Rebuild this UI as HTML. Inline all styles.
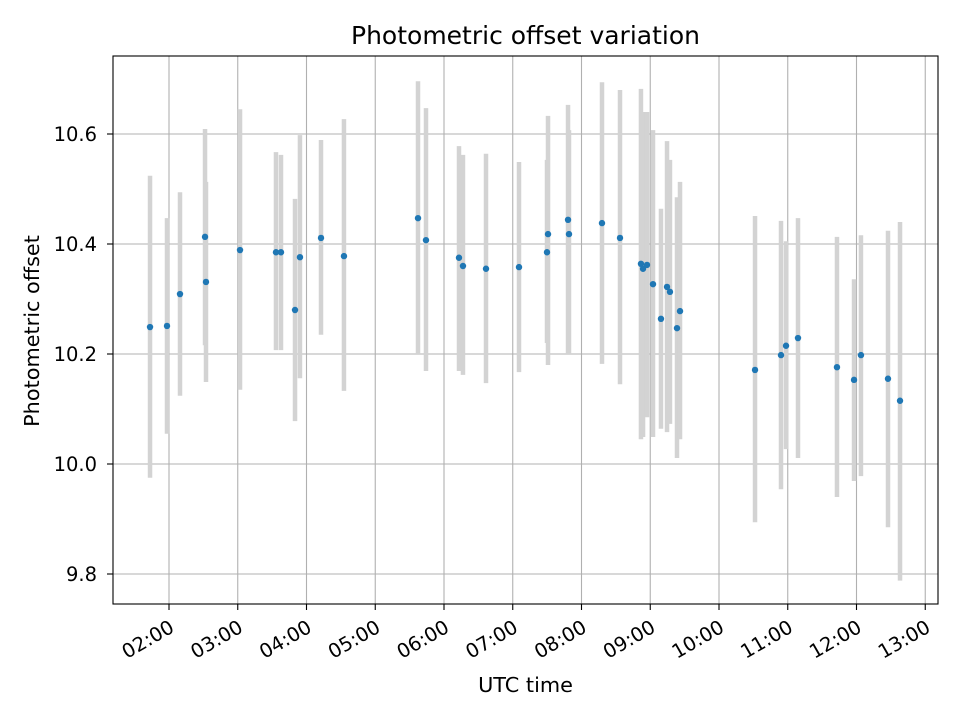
<!DOCTYPE html>
<html><head><meta charset="utf-8"><style>
body{margin:0;background:#fff}
svg text{font-family:"DejaVu Sans","Liberation Sans",sans-serif;fill:#000}
</style></head><body>
<svg id="chart" width="960" height="720" xmlns="http://www.w3.org/2000/svg">
<rect width="960" height="720" fill="#fff"/>
<g id="grid"></g><g id="bars"></g><g id="pts"></g><g id="axes"></g>
</svg>
<script>
const times=[1.724,1.971,2.16,2.524,2.538,3.033,3.556,3.629,3.833,3.905,4.211,4.545,5.622,5.738,6.218,6.276,6.611,7.091,7.498,7.513,7.804,7.818,8.298,8.56,8.865,8.895,8.953,9.04,9.156,9.244,9.287,9.389,9.433,10.524,10.902,10.975,11.149,11.716,11.964,12.065,12.458,12.633];
const values=[10.249,10.251,10.309,10.413,10.331,10.389,10.385,10.385,10.280,10.376,10.411,10.378,10.447,10.407,10.375,10.360,10.355,10.358,10.385,10.418,10.444,10.418,10.438,10.411,10.364,10.355,10.362,10.327,10.264,10.322,10.313,10.247,10.278,10.171,10.198,10.215,10.229,10.176,10.153,10.198,10.155,10.115];
const highs=[10.524,10.447,10.494,10.609,10.513,10.645,10.567,10.562,10.482,10.598,10.589,10.627,10.696,10.647,10.578,10.562,10.564,10.549,10.553,10.633,10.653,10.607,10.694,10.680,10.682,10.640,10.640,10.607,10.464,10.587,10.553,10.485,10.513,10.451,10.442,10.405,10.447,10.413,10.336,10.416,10.424,10.440];
const lows=[9.975,10.055,10.124,10.216,10.149,10.135,10.207,10.207,10.078,10.156,10.235,10.133,10.200,10.169,10.169,10.162,10.147,10.167,10.220,10.180,10.200,10.200,10.182,10.145,10.045,10.049,10.085,10.049,10.064,10.058,10.073,10.011,10.045,9.894,9.954,10.027,10.011,9.940,9.969,9.978,9.885,9.788];
const xTicks=[2,3,4,5,6,7,8,9,10,11,12,13];
const xTickLabels=["02:00","03:00","04:00","05:00","06:00","07:00","08:00","09:00","10:00","11:00","12:00","13:00"];
const yTicks=[9.8,10.0,10.2,10.4,10.6];
const yTickLabels=["9.8","10.0","10.2","10.4","10.6"];

const L=113,R=938,T=56,B=604;
const X=h=>169+(h-2)*68.75;
const Y=v=>134+(10.6-v)*550;
const NS="http://www.w3.org/2000/svg";
function mk(tag,attrs,parent,text){const e=document.createElementNS(NS,tag);for(const k in attrs)e.setAttribute(k,attrs[k]);if(text!==undefined)e.textContent=text;parent.appendChild(e);return e;}
const grid=document.getElementById('grid'),bars=document.getElementById('bars'),pts=document.getElementById('pts'),axes=document.getElementById('axes');
xTicks.forEach((t,i)=>{
  const x=X(t);
  const g=mk('line',{x1:x,x2:x,y1:T,y2:B,stroke:'#b0b0b0','stroke-width':1.1},grid);
  
  
  const tk=mk('line',{x1:x,x2:x,y1:B,y2:B+6,stroke:'#000','stroke-width':1.1},axes);
  
  
  const lb=mk('text',{x:0,y:15,'font-size':19.5,'text-anchor':'end',transform:`translate(${x-1} ${B+14}) rotate(-30)`},axes,xTickLabels[i]);
  
  
});
yTicks.forEach((t,i)=>{
  const y=Y(t);
  const g=mk('line',{x1:L,x2:R,y1:y,y2:y,stroke:'#b0b0b0','stroke-width':1.1},grid);
  
  
  const tk=mk('line',{x1:L-6,x2:L,y1:y,y2:y,stroke:'#000','stroke-width':1.1},axes);
  
  
  const lb=mk('text',{x:L-16,y:y+7,'font-size':19.5,'text-anchor':'end'},axes,yTickLabels[i]);
  
  
});
times.forEach((t,i)=>{
  const b=mk('line',{x1:X(t),x2:X(t),y1:Y(highs[i]),y2:Y(lows[i]),stroke:'#d3d3d3','stroke-width':4.5},bars);
  
  
});
times.forEach((t,i)=>{
  const p=mk('circle',{cx:X(t),cy:Y(values[i]),r:3.2,fill:'#1f77b4'},pts);
  
  
});
const fr=mk('rect',{x:L,y:T,width:R-L,height:B-T,fill:'none',stroke:'#000','stroke-width':1.1},axes);


const ti=mk('text',{x:(L+R)/2,y:44,'font-size':25,'text-anchor':'middle'},axes,'Photometric offset variation');


const xt=mk('text',{x:(L+R)/2,y:692,'font-size':20.8,'text-anchor':'middle'},axes,'UTC time');


const yt=mk('text',{x:39,y:331,'font-size':20.8,'text-anchor':'middle',transform:'rotate(-90 39 331)'},axes,'Photometric offset');


</script>
</body></html>
